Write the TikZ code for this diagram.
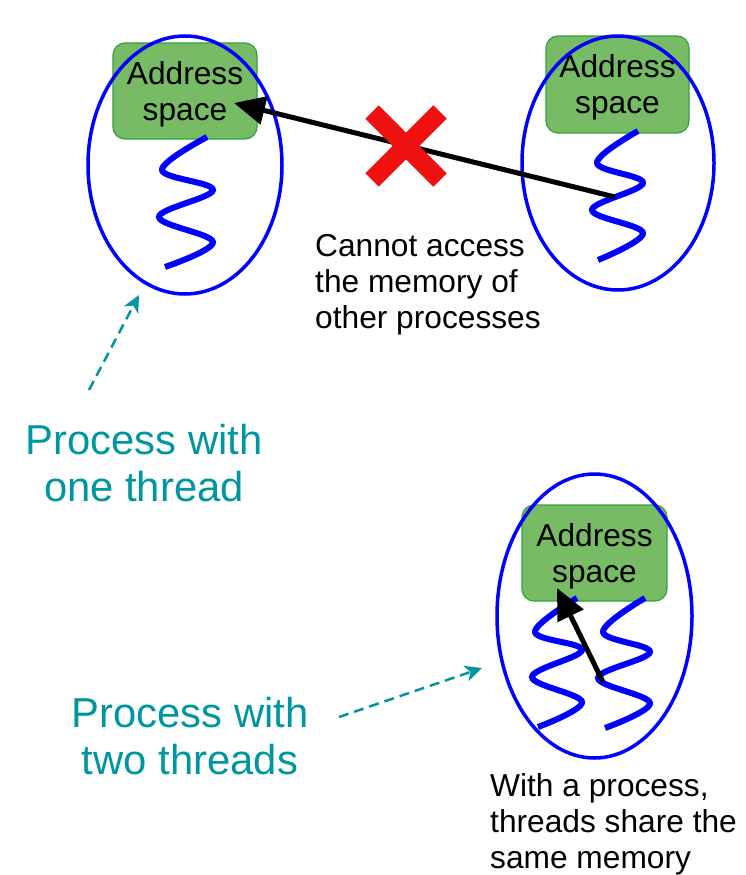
\documentclass[tikz,border=0pt]{standalone}
\usepackage{fontspec}
\setmainfont{Liberation Sans}
\usetikzlibrary{arrows.meta,shapes.geometric}
\definecolor{procblue}{RGB}{0,0,255}
\definecolor{boxgreen}{RGB}{119,188,101}
\definecolor{boxedge}{RGB}{52,160,64}
\definecolor{tealc}{RGB}{0,150,160}
\definecolor{xred}{RGB}{238,17,17}
\newcommand{\myastrut}{\rule{0pt}{28.7pt}}
\begin{document}
\begin{tikzpicture}[x=1pt,y=-1pt,
  proc/.style={draw=procblue, line width=3.5pt, ellipse, inner sep=0pt, outer sep=0pt},
  addr/.style={draw=boxedge, line width=1.2pt, fill=boxgreen, rounded corners=12pt, inner sep=0pt, align=center, font=\fontsize{31.7}{36}\selectfont},
  thr/.style={draw=procblue, line width=6pt},
  blackarrow/.style={draw=black, line width=5pt, -{Triangle[length=31pt,width=28pt]}},
  tealarrow/.style={draw=tealc, line width=2.5pt, dash pattern=on 10pt off 6pt, -{Stealth[length=17pt,width=16pt,inset=5pt]}},
  smalltext/.style={inner sep=0pt, align=left, font=\fontsize{31.7}{36}\selectfont},
  bigtext/.style={inner sep=0pt, align=center, text=tealc, font=\fontsize{41.8}{47.3}\selectfont},
]
\useasboundingbox (0,0) rectangle (745,875);

% address-space boxes
\node[addr, minimum width=144pt, minimum height=96pt] (as1) at (185,91) {\myastrut Address\\space};
\node[addr, minimum width=143pt, minimum height=97pt] (as2) at (617.5,84.5) {\myastrut Address\\space};
\node[addr, minimum width=145pt, minimum height=96pt] (as3) at (594.5,553) {\myastrut Address\\space};

% threads
\draw[thr] plot[smooth, tension=0.6] coordinates {(207,137) (162,170) (213,190) (159,217) (213,242) (165,267)};
\draw[thr] plot[smooth, tension=0.6] coordinates {(638,131) (597,163) (643,183) (592,210) (643,233) (598,260)};
\draw[thr] plot[smooth, tension=0.6] coordinates {(577,598) (535,632) (582,650) (532,677) (582,702) (538,727)};
\draw[thr] plot[smooth, tension=0.6] coordinates {(645,598) (603,632) (650,652) (598,678) (650,703) (605,728)};

% processes
\node[proc, minimum width=194pt, minimum height=258pt] (p1) at (185,165) {};
\node[proc, minimum width=192pt, minimum height=254pt] (p2) at (618,163) {};
\node[proc, minimum width=195pt, minimum height=284pt] (p3) at (594.5,616) {};

% arrows
\coordinate (s1) at (615,197);
\coordinate (e1) at (234,103);
\draw[blackarrow] (s1) -- (e1);
\coordinate (s2) at (603,682);
\coordinate (e2) at (557,588);
\draw[blackarrow] (s2) -- (e2);

% red cross
\draw[xred, line width=19pt] (372,112) -- (440,180) (440,112) -- (372,180);

% texts
\node[smalltext, anchor=north west] (t1) at (315,234.3) {Cannot access\\the memory of\\other processes};
\node[smalltext, anchor=north west] (t2) at (490,773.5) {With a process,\\threads share the\\same memory};
\node[bigtext, anchor=north] (l1) at (144,424) {Process with\\one thread};
\node[bigtext, anchor=north] (l2) at (190,696.7) {Process with\\two threads};

% teal dashed arrows
\coordinate (d1s) at (89,390);
\coordinate (d1e) at (139,295);
\draw[tealarrow] (d1s) -- (d1e);
\coordinate (d2s) at (339,717);
\coordinate (d2e) at (482,668);
\draw[tealarrow] (d2s) -- (d2e);
\end{tikzpicture}
\end{document}
